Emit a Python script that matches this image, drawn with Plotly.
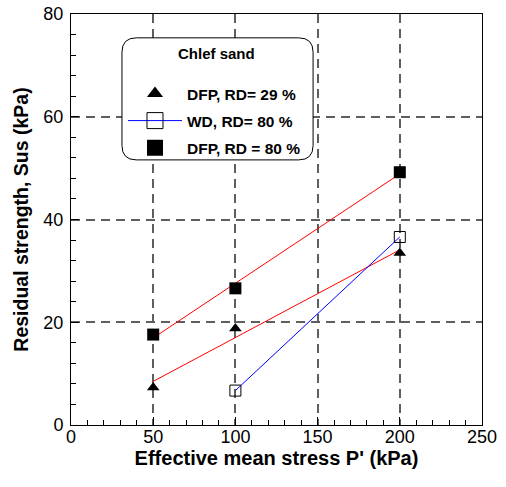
import plotly.graph_objects as go
import numpy as np

# Data
x_dfp29 = [50, 100, 200]
y_dfp29 = [7.3, 18.8, 33.5]
x_wd80 = [100, 200]
y_wd80 = [6.7, 36.6]
x_dfp80 = [50, 100, 200]
y_dfp80 = [17.6, 26.6, 49.2]

names = ["DFP, RD= 29 %", "WD, RD= 80 %", "DFP, RD = 80 %"]
legend_title = "Chlef sand"

FONT = "Arial, Liberation Sans, sans-serif"

def trend(x, y):
    k, b = np.polyfit(x, y, 1)
    xs = [min(x), max(x)]
    return xs, [k * v + b for v in xs]

fig = go.Figure()

tx, ty = trend(x_dfp29, y_dfp29)
fig.add_trace(go.Scatter(x=tx, y=ty, mode="lines", line=dict(color="red", width=1), showlegend=False))
tx, ty = trend(x_dfp80, y_dfp80)
fig.add_trace(go.Scatter(x=tx, y=ty, mode="lines", line=dict(color="red", width=1), showlegend=False))

fig.add_trace(go.Scatter(x=x_wd80, y=y_wd80, mode="lines+markers",
                         line=dict(color="blue", width=1),
                         marker=dict(symbol="square-open", size=11, color="black", line=dict(width=1)),
                         showlegend=False))
fig.add_trace(go.Scatter(x=x_dfp29, y=y_dfp29, mode="markers",
                         marker=dict(symbol="triangle-up", size=11, color="black"), showlegend=False))
fig.add_trace(go.Scatter(x=x_dfp80, y=y_dfp80, mode="markers",
                         marker=dict(symbol="square", size=12, color="black"), showlegend=False))

# legend entries
fig.add_trace(go.Scatter(x=[None], y=[None], mode="markers", name=names[0], legendgroup="a",
                         marker=dict(symbol="triangle-up", size=14, color="black")))
fig.add_trace(go.Scatter(x=[None], y=[None], mode="lines+markers", name=names[1], legendgroup="b",
                         line=dict(color="blue", width=1),
                         marker=dict(symbol="square-open", size=16, color="black", line=dict(width=1))))
fig.add_trace(go.Scatter(x=[None], y=[None], mode="markers", name=names[2], legendgroup="c",
                         marker=dict(symbol="square", size=16, color="black")))

# rounded legend box
x0, x1, y0, y1 = 0.124, 0.589, 0.645, 0.942
rx, ry = 0.035, 0.035
path = (f"M {x0+rx},{y1} L {x1-rx},{y1} Q {x1},{y1} {x1},{y1-ry} L {x1},{y0+ry} "
        f"Q {x1},{y0} {x1-rx},{y0} L {x0+rx},{y0} Q {x0},{y0} {x0},{y0+ry} "
        f"L {x0},{y1-ry} Q {x0},{y1} {x0+rx},{y1} Z")
fig.add_shape(type="path", path=path, xref="paper", yref="paper",
              fillcolor="white", line=dict(color="black", width=1), layer="above")

fig.add_annotation(text="<b>" + legend_title + "</b>", xref="paper", yref="paper",
                   x=0.355, y=0.903, xanchor="center", yanchor="middle", showarrow=False,
                   font=dict(family=FONT, size=15, color="black"))

axis_common = dict(
    showline=True, linecolor="black", linewidth=1, mirror=True,
    ticks="inside", ticklen=8, tickcolor="black",
    showgrid=True, gridcolor="#5e5e5e", griddash="9px,6px", gridwidth=1.5,
    zeroline=False, automargin=False,
    tickfont=dict(family=FONT, size=18, color="black"),
)

fig.update_xaxes(range=[0, 250], dtick=50, tick0=0,
                 minor=dict(dtick=10, ticks="inside", ticklen=5, tickcolor="black", showgrid=False),
                 title=dict(text="<b>Effective mean stress P' (kPa)</b>",
                            font=dict(family=FONT, size=20, color="black"), standoff=2),
                 ticklabelstandoff=-5,
                 **axis_common)
fig.update_yaxes(range=[0, 80], dtick=20, tick0=0,
                 minor=dict(dtick=4, ticks="inside", ticklen=5, tickcolor="black", showgrid=False),
                 title=dict(text="<b>Residual strength, Sus (kPa)</b>",
                            font=dict(family=FONT, size=19.5, color="black"), standoff=9),
                 ticklabelstandoff=3,
                 **axis_common)

fig.update_layout(
    width=506, height=487,
    margin=dict(l=71, r=24, t=14, b=62),
    plot_bgcolor="white", paper_bgcolor="white",
    legend=dict(x=0.1265, y=0.847, xanchor="left", yanchor="top",
                bgcolor="rgba(0,0,0,0)", borderwidth=0,
                font=dict(family=FONT, size=15.5, color="black", weight="bold"),
                tracegroupgap=4, itemwidth=54),
)

fig.write_html("out.html")
